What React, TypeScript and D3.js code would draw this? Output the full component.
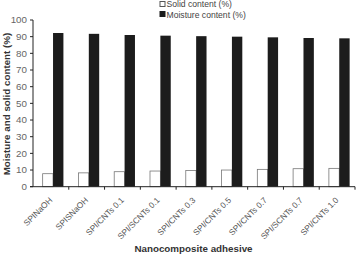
import React from 'react';
import * as d3 from 'd3';

const categories = [
  'SPINaOH',
  'SPISNaOH',
  'SPI/CNTs 0.1',
  'SPI/SCNTs 0.1',
  'SPI/CNTs 0.3',
  'SPI/CNTs 0.5',
  'SPI/CNTs 0.7',
  'SPI/SCNTs 0.7',
  'SPI/CNTs 1.0',
];
const solidContent = [7.8, 8.3, 9.0, 9.4, 9.7, 10.0, 10.4, 10.8, 11.0];
const moistureContent = [92.2, 91.7, 91.0, 90.6, 90.3, 90.0, 89.6, 89.2, 89.0];
const yTicks = [0, 10, 20, 30, 40, 50, 60, 70, 80, 90, 100];

const W = 359;
const H = 255;
const margin = { top: 20, right: 4, bottom: 68.3, left: 33 };
const font = '"Liberation Sans", Arial, sans-serif';

const App = () => {
  const innerW = W - margin.left - margin.right;
  const innerH = H - margin.top - margin.bottom;

  const x = d3.scaleBand().domain(categories).range([0, innerW]);
  const y = d3.scaleLinear().domain([0, 100]).range([innerH, 0]);
  const bw = x.bandwidth();
  const barW = bw * 0.29;

  return (
    <svg
      width={W}
      height={H}
      style={{ position: 'absolute', left: 0, top: 0, background: '#fff' }}
      fontFamily={font}
    >
      {/* legend */}
      <g transform="translate(159.5,1)">
        <rect x={0.5} y={0.5} width={5} height={5} fill="#fff" stroke="#555" />
        <text x={7} y={6} fontSize={8.6} fill="#444">Solid content (%)</text>
        <rect x={0} y={10} width={6} height={6} fill="#1a1a1a" />
        <text x={7} y={16.5} fontSize={8.6} fill="#444">Moisture content (%)</text>
      </g>

      <g transform={`translate(${margin.left},${margin.top})`}>
        {categories.map((c, i) => {
          const x0 = (x(c) ?? 0) + bw * 0.27;
          return (
            <g key={c}>
              <rect
                x={x0}
                y={y(solidContent[i])}
                width={barW}
                height={innerH - y(solidContent[i])}
                fill="#fff"
                stroke="#777"
                strokeWidth={0.8}
              />
              <rect
                x={x0 + barW}
                y={y(moistureContent[i])}
                width={barW}
                height={innerH - y(moistureContent[i])}
                fill="#1c1c1c"
              />
            </g>
          );
        })}

        {/* y axis */}
        <line x1={0} x2={0} y1={0} y2={innerH} stroke="#222" strokeWidth={1} />
        {yTicks.map(t => (
          <g key={t} transform={`translate(0,${y(t)})`}>
            <line x1={-3} x2={0} stroke="#222" />
            <text x={-6} dy="0.35em" textAnchor="end" fontSize={9.8} fill="#666">
              {t}
            </text>
          </g>
        ))}

        {/* x axis */}
        <line x1={-3} x2={innerW} y1={innerH} y2={innerH} stroke="#222" />
        {categories.map(c => (
          <line
            key={'t' + c}
            x1={(x(c) ?? 0) + bw}
            x2={(x(c) ?? 0) + bw}
            y1={innerH}
            y2={innerH + 3}
            stroke="#222"
          />
        ))}
        {categories.map(c => {
          const cx = (x(c) ?? 0) + bw / 2 + 2;
          return (
            <text
              key={'l' + c}
              transform={`translate(${cx},${innerH + 14}) rotate(-45)`}
              textAnchor="end"
              fontSize={8.3}
              fill="#555"
            >
              {c}
            </text>
          );
        })}
      </g>

      <text
        transform={`translate(10,104) rotate(-90)`}
        textAnchor="middle"
        fontSize={9.8}
        fontWeight="bold"
        fill="#333"
      >
        Moisture and solid content (%)
      </text>
      <text
        x={193.5}
        y={251.5}
        textAnchor="middle"
        fontSize={9.8}
        fontWeight="bold"
        fill="#333"
      >
        Nanocomposite adhesive
      </text>
    </svg>
  );
};

export default App;
